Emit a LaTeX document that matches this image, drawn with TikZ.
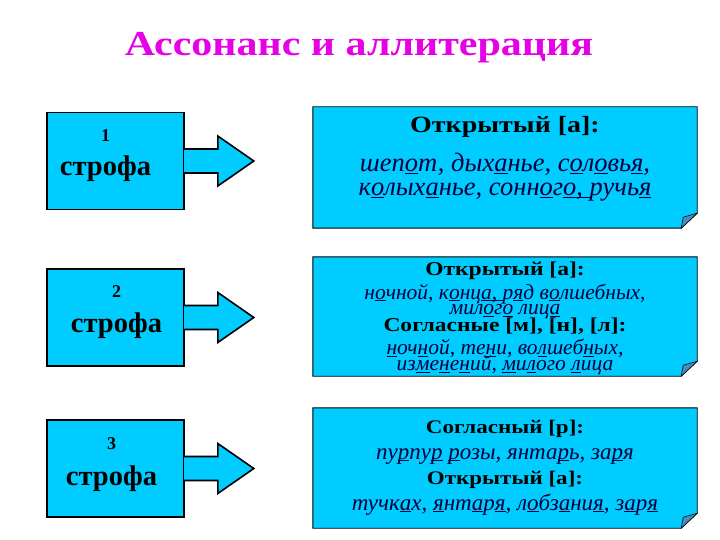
\documentclass[tikz,border=0pt]{standalone}
\usepackage{fontspec}
\setmainfont{Liberation Serif}
\newfontfamily\headfont{Liberation Serif}[FakeStretch=1.2]
\usetikzlibrary{positioning}

\definecolor{boxblue}{RGB}{0,204,255}
\definecolor{flapblue}{RGB}{70,140,190}
\definecolor{titlepink}{RGB}{230,0,230}
\definecolor{versenavy}{RGB}{0,0,60}

% underlined sound
\newcommand{\snd}[1]{\setbox0\hbox{#1}\rlap{\rule[-2.1pt]{\wd0}{1.1pt}}\box0\relax}
% one line of a note: heading or verse
\newcommand{\hd}[1]{\headfont\bfseries\color{black}\fontsize{#1}{#1}\selectfont}
\newcommand{\vs}[1]{\itshape\fontsize{#1}{#1}\selectfont}
% fixed line pitch inside a note
\newcommand{\pitch}[1]{\fontsize{12}{#1}\selectfont\lineskiplimit=-100pt}

\begin{document}
\begin{tikzpicture}[x=1pt,y=-1pt,
  stanza/.style={draw=black,line width=1.6pt,fill=boxblue,minimum width=137pt,minimum height=97pt,inner sep=0pt},
  stanzatext/.style={align=center,inner sep=0pt,font=\bfseries},
  arrowbody/.style={draw=black,line width=1.6pt,fill=boxblue,line join=miter},
  notebox/.style={minimum width=384pt,minimum height=#1,inner sep=0pt},
  noteedge/.style={draw=black,line width=0.9pt,fill=boxblue},
  noteflap/.style={draw=black,line width=0.5pt,fill=flapblue},
  notetext/.style={align=center,inner sep=0pt,text=versenavy}]

\useasboundingbox (0,0) rectangle (720,540);

% title
\node[anchor=base,font=\headfont\bfseries\fontsize{35}{35}\selectfont,text=titlepink] (title) at (359,56) {Ассонанс и аллитерация};

% stanzas on the left
\node[stanza] (s1) at (115.5,161) {};
\node[stanza] (s2) at (115.5,317.5) {};
\node[stanza] (s3) at (115.5,468.5) {};
\node[stanzatext] (l1) at ([xshift=-10pt,yshift=5.5pt]s1.center) {\fontsize{18}{18}\selectfont 1\\[14pt]\fontsize{28.5}{28.5}\selectfont строфа};
\node[stanzatext] (l2) at ([xshift=1pt,yshift=5.5pt]s2.center) {\fontsize{18}{18}\selectfont 2\\[14pt]\fontsize{28.5}{28.5}\selectfont строфа};
\node[stanzatext] (l3) at ([xshift=-4pt,yshift=4pt]s3.center) {\fontsize{18}{18}\selectfont 3\\[15pt]\fontsize{28.5}{28.5}\selectfont строфа};

% arrows
\foreach \s in {s1,s2,s3}
  \draw[arrowbody] ([xshift=-0.8pt,yshift=12pt]\s.east) -- ++(33.8,0) -- ++(0,-13) -- ++(36,25)
    -- ++(-36,25) -- ++(0,-13) -- ++(-33.8,0);

% notes on the right
\node[notebox=121pt] (b1) at (505,167.5) {};
\node[notebox=119pt] (b2) at (505,316.5) {};
\node[notebox=120pt] (b3) at (505,468) {};
\foreach \n in {b1,b2,b3} {
  \draw[noteedge] (\n.north west) -- (\n.north east) -- ([yshift=15pt]\n.south east)
    -- ([xshift=-16pt]\n.south east) -- (\n.south west) -- cycle;
  \draw[noteflap] ([xshift=-16pt]\n.south east) -- ([yshift=15pt]\n.south east)
    -- ([xshift=-14pt,yshift=11pt]\n.south east) -- cycle;
}

\node[notetext,font=\pitch{24},below=9pt of b1.north] (t1) {%
  \hd{23.3}Открытый [а]:\\[15.5pt]
  \vs{26.5}шеп\snd{о}т, дых\snd{а}нье, с\snd{о}л\snd{о}вь\snd{я},\\
  \vs{26.5}к\snd{о}лых\snd{а}нье, сонн\snd{о}г\snd{о, }ручь\snd{я}};

\node[notetext,font=\pitch{15.5},below=4.5pt of b2.north] (t2) {%
  \hd{19.6}Открытый [а]:\\[8.5pt]
  \vs{21.5}н\snd{о}чной, к\snd{о}нц\snd{а, }р\snd{я}д в\snd{о}лшебных,\\
  \vs{21.5}мил\snd{о}г\snd{о} лиц\snd{а}\\[1.5pt]
  \hd{19.6}Согласные [м], [н], [л]:\\[7.5pt]
  \vs{21.5}\snd{н}оч\snd{н}ой, те\snd{н}и, во\snd{л}шеб\snd{н}ых,\\[0.5pt]
  \vs{21.5}из\snd{м}е\snd{н}е\snd{н}ий, \snd{м}и\snd{л}ого \snd{л}ица};

\node[notetext,font=\pitch{25.5},below=12.5pt of b3.north] (t3) {%
  \hd{19.2}Согласный [р]:\\
  \vs{23}пу\snd{р}пу\snd{р} \snd{р}озы, янта\snd{р}ь, за\snd{р}я\\
  \hd{19.2}Открытый [а]:\\
  \vs{23}тучк\snd{а}х, \snd{я}нт\snd{а}р\snd{я}, л\snd{о}бз\snd{а}ни\snd{я}, з\snd{а}р\snd{я}};
\end{tikzpicture}
\end{document}
